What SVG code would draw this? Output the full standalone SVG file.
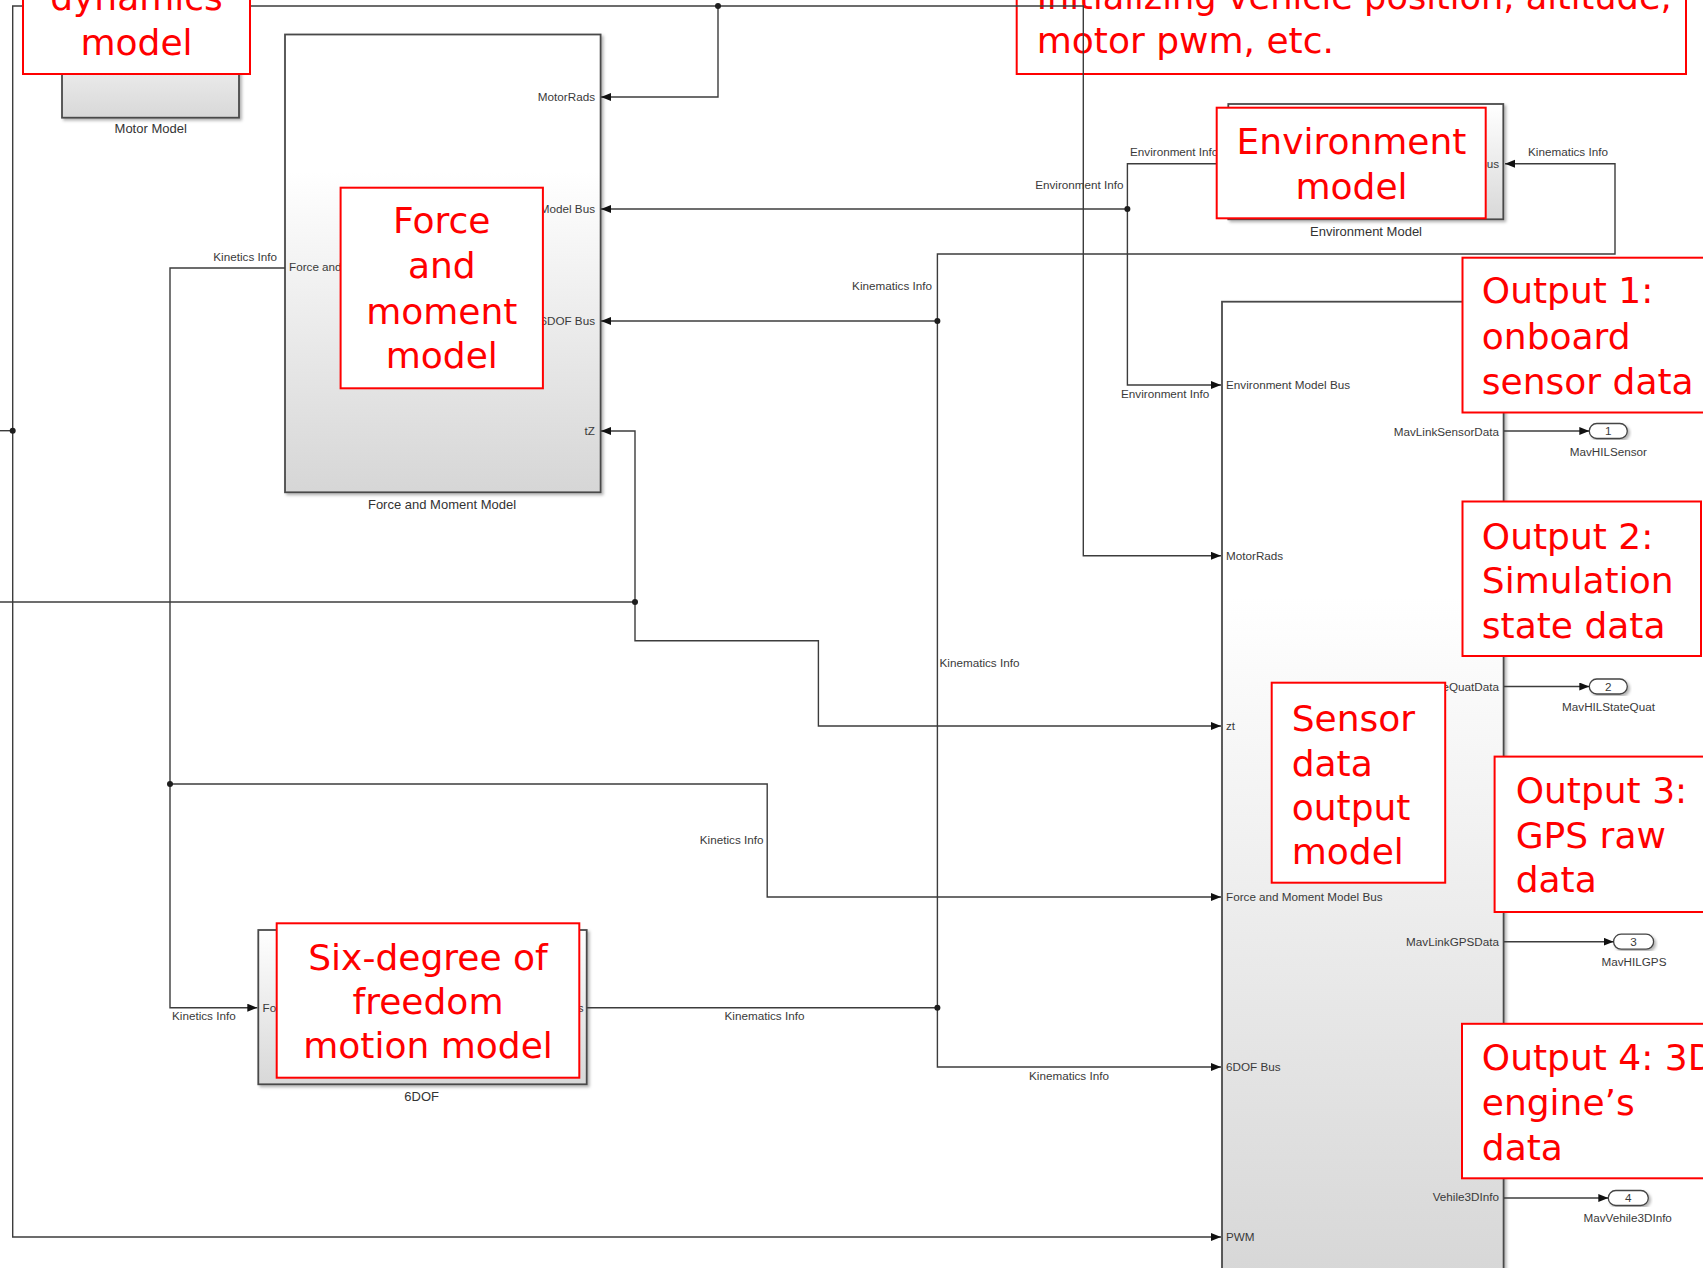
<svg xmlns="http://www.w3.org/2000/svg" width="1703" height="1268" viewBox="0 0 1703 1268">
  <style>
    .blk { stroke: #4a4a4a; stroke-width: 1.8; filter: url(#shadow); }
    .wire { fill: none; stroke: #3c3c3c; stroke-width: 1.4; }
    .arr { marker-end: url(#head); }
    .dot { fill: #1e1e1e; }
    .lbl { font-family: "Liberation Sans", Arial, sans-serif; font-size: 11.7px; fill: #3a3a3a; }
    .name { font-family: "Liberation Sans", Arial, sans-serif; font-size: 13px; fill: #333333; text-anchor: middle; }
    .end { text-anchor: end; }
    .mid { text-anchor: middle; }
    .note { fill: #ffffff; stroke: #ff0000; stroke-width: 2; }
    .ntxt { font-family: "DejaVu Sans", "Liberation Sans", sans-serif; font-size: 36px; fill: #ff0000; }
    .port { fill: #ffffff; stroke: #444444; stroke-width: 1.3; filter: url(#shadow); }
  </style>
  <defs>
    <linearGradient id="gFill" x1="0" y1="0" x2="0" y2="1">
      <stop offset="0" stop-color="#ffffff"/>
      <stop offset="0.3" stop-color="#ffffff"/>
      <stop offset="1" stop-color="#d6d6d6"/>
    </linearGradient>
    <linearGradient id="gFillShort" x1="0" y1="0" x2="0" y2="1">
      <stop offset="0" stop-color="#ffffff"/>
      <stop offset="1" stop-color="#d8d8d8"/>
    </linearGradient>
    <filter id="shadow" x="-5%" y="-5%" width="115%" height="115%">
      <feDropShadow dx="2" dy="2" stdDeviation="1.5" flood-color="#000000" flood-opacity="0.3"/>
    </filter>
    <marker id="head" markerUnits="userSpaceOnUse" markerWidth="11" markerHeight="9" refX="10" refY="4" orient="auto">
      <path d="M0,0 L10,4 L0,8 z" fill="#111111"/>
    </marker>
  </defs>

  <rect x="0" y="0" width="1703" height="1268" fill="#ffffff"/>

  <!-- Motor Model block -->
  <g id="motor-model">
    <rect class="blk" x="62" y="20" width="177" height="97.7" fill="url(#gFillShort)"/>
    <text class="name" x="150.7" y="133">Motor Model</text>
  </g>

  <!-- Force and Moment Model block -->
  <g id="force-moment-model">
    <rect class="blk" x="285" y="34.5" width="315.6" height="457.8" fill="url(#gFill)"/>
    <text class="lbl end" x="595" y="101">MotorRads</text>
    <text class="lbl end" x="595" y="212.5">Environment Model Bus</text>
    <text class="lbl end" x="595" y="324.7">6DOF Bus</text>
    <text class="lbl end" x="595" y="435">tZ</text>
    <text class="lbl" x="289" y="271">Force and Moment Model Bus</text>
    <text class="name" x="442" y="508.6">Force and Moment Model</text>
  </g>

  <!-- Environment Model block -->
  <g id="environment-model">
    <rect class="blk" x="1228.3" y="104" width="275" height="115.3" fill="url(#gFillShort)"/>
    <text class="lbl end" x="1499" y="167.7">6DOF Bus</text>
    <text class="name" x="1366" y="236">Environment Model</text>
  </g>

  <!-- 6DOF block -->
  <g id="six-dof">
    <rect class="blk" x="258.3" y="930" width="328.4" height="154.3" fill="url(#gFillShort)"/>
    <text class="lbl" x="262.5" y="1011.7">Force and Moment Model Bus</text>
    <text class="lbl end" x="583.5" y="1011.7">6DOF Bus</text>
    <text class="name" x="421.7" y="1101">6DOF</text>
  </g>

  <!-- Sensor data output block -->
  <g id="sensor-output-model">
    <rect class="blk" x="1222" y="301.7" width="281.6" height="990" fill="url(#gFill)"/>
    <text class="lbl" x="1226" y="389">Environment Model Bus</text>
    <text class="lbl" x="1226" y="560">MotorRads</text>
    <text class="lbl" x="1226" y="730">zt</text>
    <text class="lbl" x="1226" y="901">Force and Moment Model Bus</text>
    <text class="lbl" x="1226" y="1071">6DOF Bus</text>
    <text class="lbl" x="1226" y="1241">PWM</text>
    <text class="lbl end" x="1499" y="435.5">MavLinkSensorData</text>
    <text class="lbl end" x="1499" y="690.7">MavLinkStateQuatData</text>
    <text class="lbl end" x="1499" y="945.7">MavLinkGPSData</text>
    <text class="lbl end" x="1499" y="1201">Vehile3DInfo</text>
  </g>

  <!-- Outports -->
  <g id="out-1">
    <rect class="port" x="1589.3" y="423.5" width="38" height="15" rx="7.5"/>
    <text class="lbl mid" x="1608.3" y="435.2">1</text>
    <text class="lbl mid" x="1608.3" y="455.7">MavHILSensor</text>
  </g>
  <g id="out-2">
    <rect class="port" x="1589.3" y="679" width="38" height="15" rx="7.5"/>
    <text class="lbl mid" x="1608.3" y="690.7">2</text>
    <text class="lbl mid" x="1608.5" y="711">MavHILStateQuat</text>
  </g>
  <g id="out-3">
    <rect class="port" x="1613.6" y="934.2" width="40" height="15" rx="7.5"/>
    <text class="lbl mid" x="1633.6" y="945.9">3</text>
    <text class="lbl mid" x="1634" y="966">MavHILGPS</text>
  </g>
  <g id="out-4">
    <rect class="port" x="1608.3" y="1190.5" width="40" height="15" rx="7.5"/>
    <text class="lbl mid" x="1628.3" y="1202.2">4</text>
    <text class="lbl mid" x="1627.7" y="1221.7">MavVehile3DInfo</text>
  </g>

  <!-- Initial conditions note (sits under the wires) -->
  <g id="note-init">
    <rect class="note" x="1016.7" y="-60" width="669.3" height="134"/>
    <text class="ntxt" x="1036.7" y="8.5" textLength="635" lengthAdjust="spacingAndGlyphs">Initializing vehicle position, altitude,</text>
    <text class="ntxt" x="1036.7" y="53.3">motor pwm, etc.</text>
  </g>

  <!-- Signal lines -->
  <g id="connectors">
    <!-- motor speed / pwm feed -->
    <path class="wire" d="M0,430.7 H12.7"/>
    <path class="wire arr" d="M12.7,430.7 V6 H718 V97 H601"/>
    <path class="wire arr" d="M718,6 H1083.3 V555.8 H1221"/>
    <path class="wire arr" d="M12.7,430.7 V1237 H1221"/>
    <circle class="dot" cx="12.7" cy="430.7" r="3"/>
    <circle class="dot" cx="718" cy="6" r="3"/>

    <!-- tZ / zt -->
    <path class="wire" d="M0,602 H635"/>
    <path class="wire arr" d="M635,602 V431 H601"/>
    <path class="wire arr" d="M635,602 V640.7 H818.4 V726 H1221"/>
    <circle class="dot" cx="635" cy="602" r="3"/>

    <!-- Kinetics Info -->
    <path class="wire arr" d="M285,268 H170 V1007.7 H257.3"/>
    <path class="wire arr" d="M170,784 H767.2 V897 H1221"/>
    <circle class="dot" cx="170" cy="784" r="3"/>
    <text class="lbl end" x="277" y="260.7">Kinetics Info</text>
    <text class="lbl" x="172" y="1020">Kinetics Info</text>
    <text class="lbl end" x="763.5" y="843.6">Kinetics Info</text>

    <!-- Kinematics Info -->
    <path class="wire" d="M586.7,1007.7 H937.4"/>
    <path class="wire arr" d="M937.4,1007.7 V254 H1615 V163.7 H1505"/>
    <path class="wire arr" d="M937.4,321 H601"/>
    <path class="wire arr" d="M937.4,1007.7 V1067 H1221"/>
    <circle class="dot" cx="937.4" cy="321" r="3"/>
    <circle class="dot" cx="937.4" cy="1007.7" r="3"/>
    <text class="lbl end" x="932" y="290">Kinematics Info</text>
    <text class="lbl" x="939.5" y="667">Kinematics Info</text>
    <text class="lbl mid" x="764.5" y="1020">Kinematics Info</text>
    <text class="lbl mid" x="1069" y="1080">Kinematics Info</text>
    <text class="lbl" x="1528" y="155.7">Kinematics Info</text>

    <!-- Environment Info -->
    <path class="wire arr" d="M1228.3,163.7 H1127.4 V385 H1221"/>
    <path class="wire arr" d="M1127.4,209 H601"/>
    <circle class="dot" cx="1127.4" cy="209" r="3"/>
    <text class="lbl" x="1130" y="155.7">Environment Info</text>
    <text class="lbl end" x="1123.5" y="189">Environment Info</text>
    <text class="lbl" x="1121" y="397.5">Environment Info</text>

    <!-- outputs -->
    <path class="wire arr" d="M1504,431 H1589.3"/>
    <path class="wire arr" d="M1504,686.5 H1589.3"/>
    <path class="wire arr" d="M1504,941.7 H1613.6"/>
    <path class="wire arr" d="M1504,1198 H1608.3"/>
  </g>

  <!-- Callout notes -->
  <g id="note-motor">
    <rect class="note" x="23" y="-60" width="227" height="134"/>
    <text class="ntxt mid" x="136.5" y="10">dynamics</text>
    <text class="ntxt mid" x="136.5" y="55">model</text>
  </g>
  <g id="note-force">
    <rect class="note" x="340.6" y="187.7" width="202.3" height="200.6"/>
    <text class="ntxt mid" x="441.8" y="233">Force</text>
    <text class="ntxt mid" x="441.8" y="278">and</text>
    <text class="ntxt mid" x="441.8" y="323.5">moment</text>
    <text class="ntxt mid" x="441.8" y="368">model</text>
  </g>
  <g id="note-env">
    <rect class="note" x="1216.7" y="107.7" width="269" height="110.6"/>
    <text class="ntxt mid" x="1351.5" y="154">Environment</text>
    <text class="ntxt mid" x="1351.5" y="199">model</text>
  </g>
  <g id="note-6dof">
    <rect class="note" x="276.7" y="923.3" width="302.6" height="154.4"/>
    <text class="ntxt mid" x="428" y="970">Six-degree of</text>
    <text class="ntxt mid" x="428" y="1014">freedom</text>
    <text class="ntxt mid" x="428" y="1058">motion model</text>
  </g>
  <g id="note-sensor">
    <rect class="note" x="1271.7" y="682.7" width="173.5" height="200"/>
    <text class="ntxt" x="1291.7" y="731">Sensor</text>
    <text class="ntxt" x="1291.7" y="775.5">data</text>
    <text class="ntxt" x="1291.7" y="820">output</text>
    <text class="ntxt" x="1291.7" y="864">model</text>
  </g>
  <g id="note-out1">
    <rect class="note" x="1462.5" y="257.7" width="260" height="154.8"/>
    <text class="ntxt" x="1481.8" y="303.3">Output 1:</text>
    <text class="ntxt" x="1481.8" y="348.5">onboard</text>
    <text class="ntxt" x="1481.8" y="394">sensor data</text>
  </g>
  <g id="note-out2">
    <rect class="note" x="1462.5" y="501.5" width="238.5" height="154.5"/>
    <text class="ntxt" x="1481.8" y="548.5">Output 2:</text>
    <text class="ntxt" x="1481.8" y="593">Simulation</text>
    <text class="ntxt" x="1481.8" y="637.5">state data</text>
  </g>
  <g id="note-out3">
    <rect class="note" x="1494.6" y="756.6" width="230" height="155.4"/>
    <text class="ntxt" x="1515.7" y="803">Output 3:</text>
    <text class="ntxt" x="1515.7" y="847.5">GPS raw</text>
    <text class="ntxt" x="1515.7" y="892">data</text>
  </g>
  <g id="note-out4">
    <rect class="note" x="1462" y="1023.8" width="260" height="154.5"/>
    <text class="ntxt" x="1481.8" y="1069.5">Output 4: 3D</text>
    <text class="ntxt" x="1481.8" y="1114.5">engine’s</text>
    <text class="ntxt" x="1481.8" y="1159.5">data</text>
  </g>
</svg>
